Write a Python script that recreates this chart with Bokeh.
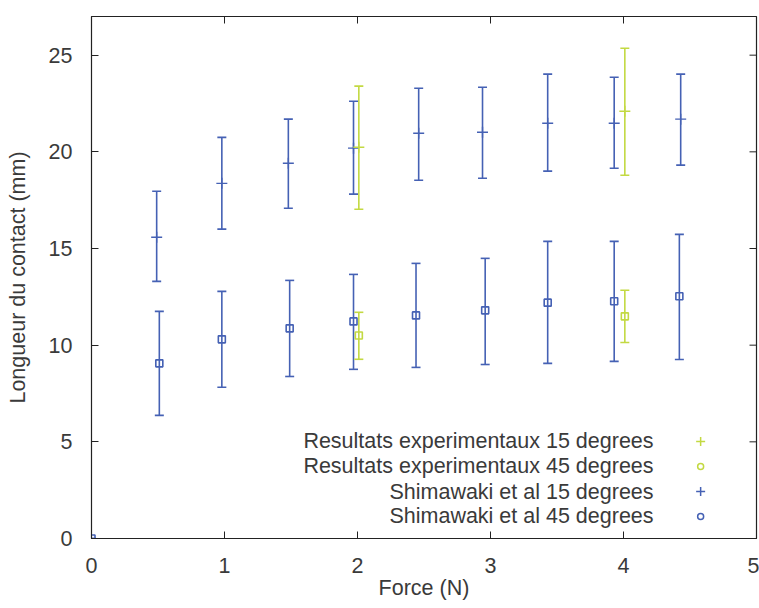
from bokeh.plotting import figure
from bokeh.models import ColumnDataSource, Whisker, Range1d, FixedTicker, TeeHead
from bokeh.core.properties import value
from bokeh.embed import file_html
from bokeh.resources import INLINE

# ---- data ----
shim15_x = [0.49, 0.98, 1.48, 1.97, 2.46, 2.94, 3.43, 3.93, 4.43]
shim15_y = [15.58, 18.37, 19.41, 20.19, 20.96, 21.01, 21.48, 21.48, 21.69]
shim15_lo = [13.30, 16.00, 17.08, 17.81, 18.53, 18.63, 19.00, 19.15, 19.31]
shim15_hi = [17.96, 20.75, 21.69, 22.62, 23.29, 23.34, 24.02, 23.86, 24.02]

shim45_x = [0.0, 0.51, 0.98, 1.49, 1.97, 2.44, 2.96, 3.43, 3.93, 4.42]
shim45_y = [0.0, 9.06, 10.30, 10.87, 11.23, 11.54, 11.80, 12.20, 12.27, 12.53]
shim45_lo = [0.0, 6.37, 7.82, 8.38, 8.75, 8.85, 9.00, 9.06, 9.16, 9.26]
shim45_hi = [0.0, 11.75, 12.78, 13.35, 13.66, 14.23, 14.49, 15.37, 15.37, 15.73]

exp15_x = [2.01, 4.01]
exp15_y = [20.24, 22.10]
exp15_lo = [17.03, 18.79]
exp15_hi = [23.40, 25.36]

exp45_x = [2.01, 4.01]
exp45_y = [10.50, 11.49]
exp45_lo = [9.27, 10.14]
exp45_hi = [11.70, 12.84]

x_ticks = [0, 1, 2, 3, 4, 5]
y_ticks = [0, 5, 10, 15, 20, 25]
x_max = 5
y_max = 27.0

x_title = "Force (N)"
y_title = "Longueur du contact (mm)"
legend_labels = ["Resultats experimentaux 15 degrees",
                 "Resultats experimentaux 45 degrees",
                 "Shimawaki et al 15 degrees",
                 "Shimawaki et al 45 degrees"]

BLUE = "#4561b4"
GREEN = "#c3d942"
TXT = "#3a3a3a"
AX = "#222222"
FONT = "Liberation Sans"
FS = "21.5px"

W, H = 759, 608
LB, RB, TB, BB = 91, 3, 16, 70

p = figure(width=W, height=H, output_backend="svg", toolbar_location=None,
           x_range=Range1d(0, x_max), y_range=Range1d(0, y_max),
           min_border_left=LB, min_border_right=RB, min_border_top=TB, min_border_bottom=BB)
p.grid.visible = False
p.outline_line_color = AX
p.outline_line_width = 1.2
p.background_fill_color = "white"

for ax in (p.xaxis[0], p.yaxis[0]):
    ax.major_tick_in = 7
    ax.major_tick_out = 0
    ax.minor_tick_line_color = None
    ax.axis_line_color = AX
    ax.major_tick_line_color = AX
    ax.major_label_text_font = FONT
    ax.major_label_text_font_size = FS
    ax.major_label_text_color = TXT
    ax.axis_label_text_font = FONT
    ax.axis_label_text_font_size = FS
    ax.axis_label_text_font_style = "normal"
    ax.axis_label_text_color = TXT

p.xaxis.ticker = FixedTicker(ticks=x_ticks)
p.yaxis.ticker = FixedTicker(ticks=y_ticks)
p.xaxis.axis_label = x_title
p.yaxis.axis_label = y_title
p.xaxis.major_label_standoff = 19
p.xaxis.axis_label_standoff = 0
p.yaxis.major_label_standoff = 19
p.yaxis.axis_label_standoff = 16

frame_w = W - LB - RB
frame_h = H - TB - BB

# mirrored inward ticks on the top and right borders (gnuplot style)
tick_len_x = 7 * x_max / frame_w
tick_len_y = 7 * y_max / frame_h
p.segment(x0=x_ticks, y0=[y_max] * len(x_ticks), x1=x_ticks,
          y1=[y_max - tick_len_y] * len(x_ticks), line_color=AX, line_width=1)
p.segment(x0=[x_max] * len(y_ticks), y0=y_ticks, x1=[x_max - tick_len_x] * len(y_ticks),
          y1=y_ticks, line_color=AX, line_width=1)

def series(xs, ys, lo, hi, color, marker):
    src = ColumnDataSource(dict(x=xs, y=ys, lo=lo, hi=hi))
    w = Whisker(source=src, base="x", lower="lo", upper="hi",
                line_color=color, line_width=1.6,
                upper_head=TeeHead(size=9, line_color=color, line_width=1.6),
                lower_head=TeeHead(size=9, line_color=color, line_width=1.6))
    p.add_layout(w)
    if marker == "cross":
        p.scatter("x", "y", source=src, marker="cross", size=11,
                  line_color=color, line_width=1.4)
    else:
        p.scatter("x", "y", source=src, marker="square", size=7,
                  fill_color=None, line_color=color, line_width=1.6)

series(shim15_x, shim15_y, shim15_lo, shim15_hi, BLUE, "cross")
series(shim45_x, shim45_y, shim45_lo, shim45_hi, BLUE, "square")
series(exp15_x, exp15_y, exp15_lo, exp15_hi, GREEN, "cross")
series(exp45_x, exp45_y, exp45_lo, exp45_hi, GREEN, "square")

# gnuplot-style key: text right-aligned, then sample marker
key_text_x = 4.226
key_mark_x = 4.58
key_y = [5.02, 3.73, 2.43, 1.14]
key_colors = [GREEN, GREEN, BLUE, BLUE]
key_markers = ["cross", "circle", "cross", "circle"]
key_sizes = [9, 6, 9, 6]

p.text(x=[key_text_x] * 4, y=key_y, text=legend_labels,
       text_align="right", text_baseline="middle",
       text_font=value(FONT), text_font_size=FS, text_color=TXT)
p.scatter(x=[key_mark_x] * 4, y=key_y, marker=key_markers, size=key_sizes,
          fill_color=None, line_color=key_colors, line_width=1.5)

open("out.html", "w").write(file_html(p, INLINE))
